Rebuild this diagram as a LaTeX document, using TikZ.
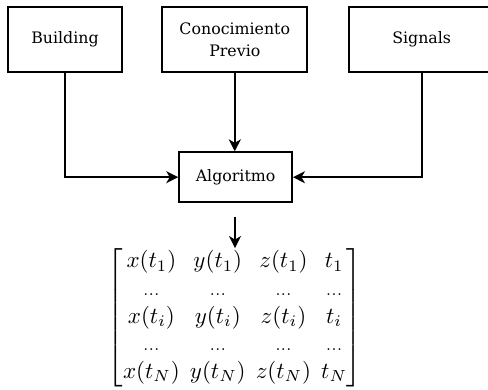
\documentclass[tikz,border=0pt]{standalone}
\usepackage{amsmath}
\usepackage{fontspec}
\setmainfont{DejaVu Serif}
\usetikzlibrary{arrows.meta}
\begin{document}
\begin{tikzpicture}[x=1pt,y=-1pt,
  box/.style={draw,line width=1.7pt,inner sep=0pt,align=center,font=\fontsize{15.8}{22}\selectfont},
  conn/.style={line width=1.7pt,-{Stealth[length=12pt,width=12pt,inset=3.5pt]}}]
\useasboundingbox (0,0) rectangle (488,389);
\node[box,minimum width=113.4pt,minimum height=64.4pt] (build) at (65,39.5) {Building};
\node[box,minimum width=145pt,minimum height=64.4pt] (cono) at (234.8,39.5) {Conocimiento\\Previo};
\node[box,minimum width=146pt,minimum height=64.4pt] (sig) at (421.7,39.5) {Signals};
\node[box,minimum width=113pt,minimum height=50pt] (algo) at (235.6,177.2) {Algoritmo};
\draw[conn] (build.south) |- (algo.west);
\draw[conn] (cono.south) -- (cono.south |- algo.north);
\draw[conn] (sig.south) |- (algo.east);
\node[inner sep=0pt,scale=2.3] (mat) at (235,317.5) {$\setlength{\arraycolsep}{2.2pt}\begin{bmatrix}
x(t_1) & y(t_1) & z(t_1) & t_1\\
{\scriptstyle ...} & {\scriptstyle ...} & {\scriptstyle ...} & {\scriptstyle ...}\\
x(t_i) & y(t_i) & z(t_i) & t_i\\
{\scriptstyle ...} & {\scriptstyle ...} & {\scriptstyle ...} & {\scriptstyle ...}\\
x(t_N) & y(t_N) & z(t_N) & t_N
\end{bmatrix}$};
\coordinate (start) at (235,217);
\draw[conn] (start) -- (mat.north);
\end{tikzpicture}
\end{document}
